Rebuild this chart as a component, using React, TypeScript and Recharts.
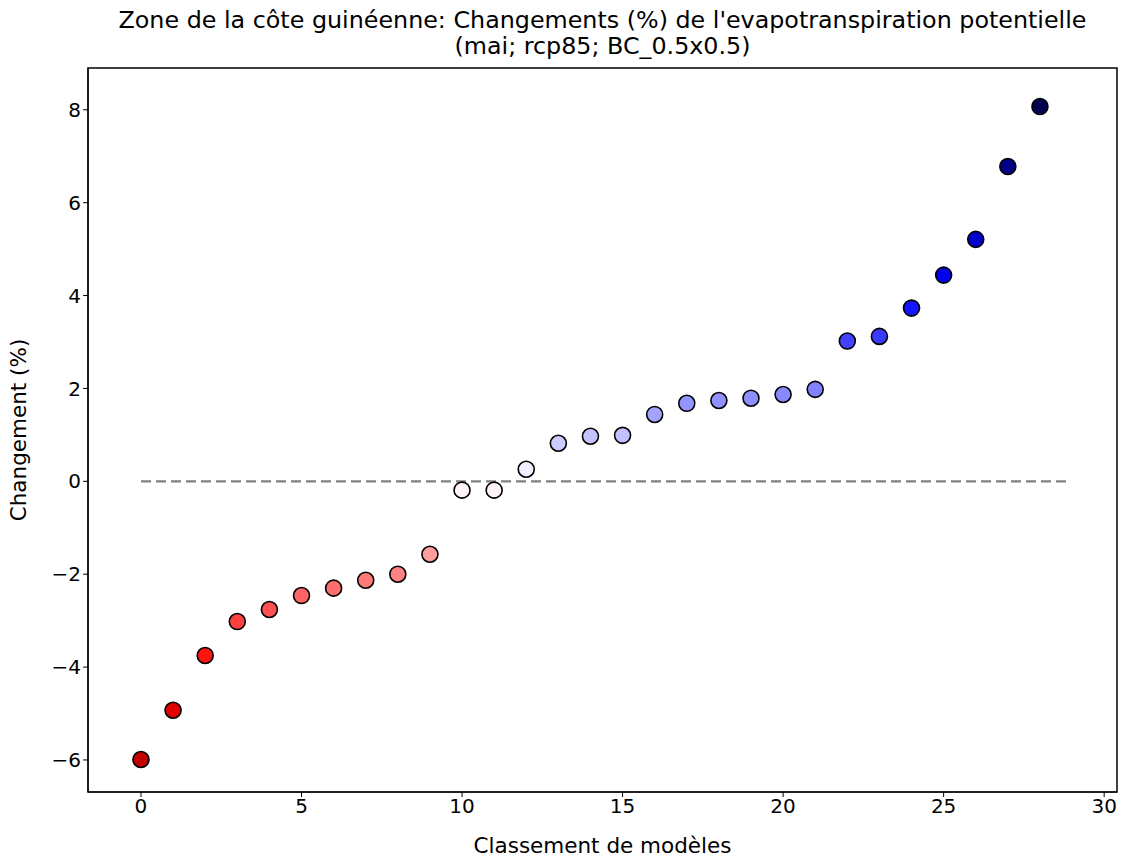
import { ScatterChart, Scatter, XAxis, YAxis, ReferenceLine, ReferenceArea } from 'recharts';

const ranks = [0, 1, 2, 3, 4, 5, 6, 7, 8, 9, 10, 11, 12, 13, 14, 15, 16, 17, 18, 19, 20, 21, 22, 23, 24, 25, 26, 27, 28];
const changes = [
  -5.99, -4.93, -3.75, -3.02, -2.76, -2.46, -2.30, -2.13, -2.00, -1.57,
  -0.19, -0.19, 0.26, 0.82, 0.97, 0.99, 1.44, 1.68, 1.74, 1.79,
  1.87, 1.98, 3.02, 3.12, 3.73, 4.44, 5.21, 6.78, 8.07,
];
const xTicks = [0, 5, 10, 15, 20, 25, 30];
const yTicks = [-6, -4, -2, 0, 2, 4, 6, 8];

// matplotlib "seismic" reversed, centred on 0
const stops = [
  [0.0, 0.0, 0.0, 0.3],
  [0.25, 0.0, 0.0, 1.0],
  [0.5, 1.0, 1.0, 1.0],
  [0.75, 1.0, 0.0, 0.0],
  [1.0, 0.5, 0.0, 0.0],
];
const vmax = 8.1;
function seismicR(v: number) {
  let t = 1 - (v + vmax) / (2 * vmax);
  t = Math.max(0, Math.min(1, t));
  let i = 0;
  while (i < stops.length - 2 && t > stops[i + 1][0]) i++;
  const a = stops[i];
  const b = stops[i + 1];
  const f = (t - a[0]) / (b[0] - a[0]);
  const c = [1, 2, 3].map((k) => Math.round(255 * (a[k] + (b[k] - a[k]) * f)));
  return `rgb(${c[0]},${c[1]},${c[2]})`;
}

const data = ranks.map((r, i) => ({ x: r, y: changes[i], color: seismicR(changes[i]) }));

const xDomain = [-1.65, 30.4];
const yDomain = [-6.69, 8.9];

const font = "'DejaVu Sans', sans-serif";
const fmt = (v: number) => String(v).replace('-', '\u2212');

const Dot = (props: any) => {
  const { cx, cy, payload } = props;
  return <circle cx={cx} cy={cy} r={8} fill={payload.color} stroke="#000" strokeWidth={1.6} />;
};

export default function App() {
  return (
    <div style={{ position: 'absolute', left: 0, top: 0, width: 1122, height: 859, background: '#fff', fontFamily: font }}>
      <div style={{ position: 'absolute', left: 88, width: 1029, top: 7, textAlign: 'center', fontSize: 23.8, lineHeight: '26px', color: '#000', whiteSpace: 'nowrap' }}>
        Zone de la côte guinéenne: Changements (%) de l'evapotranspiration potentielle
        <br />
        (mai; rcp85; BC_0.5x0.5)
      </div>
      <ScatterChart width={1122} height={859} margin={{ top: 68, right: 5, bottom: 6, left: 28 }}>
        <XAxis
          type="number"
          dataKey="x"
          domain={xDomain}
          ticks={xTicks}
          allowDataOverflow
          height={61}
          stroke="#000"
          tickSize={5}
          tick={{ fill: '#000', fontSize: 20, fontFamily: font }}
          label={{ value: 'Classement de modèles', position: 'insideBottom', offset: 0, fill: '#000', fontSize: 21.5, fontFamily: font }}
        />
        <YAxis
          type="number"
          dataKey="y"
          domain={yDomain}
          ticks={yTicks}
          allowDataOverflow
          width={60}
          stroke="#000"
          tickSize={5}
          tickFormatter={fmt}
          tick={{ fill: '#000', fontSize: 20, fontFamily: font }}
          label={{ value: 'Changement (%)', angle: -90, position: 'insideLeft', offset: -10, fill: '#000', fontSize: 21.5, fontFamily: font, style: { textAnchor: 'middle' } }}
        />
        <ReferenceArea
          x1={xDomain[0]}
          x2={xDomain[1]}
          y1={yDomain[0]}
          y2={yDomain[1]}
          fill="none"
          fillOpacity={0}
          stroke="#000"
          strokeWidth={1.5}
        />
        <ReferenceLine
          segment={[{ x: 0, y: 0 }, { x: 28.9, y: 0 }]}
          stroke="#808080"
          strokeWidth={2.2}
          strokeDasharray="10 5"
        />
        <Scatter data={data} shape={Dot} isAnimationActive={false} />
      </ScatterChart>
    </div>
  );
}
